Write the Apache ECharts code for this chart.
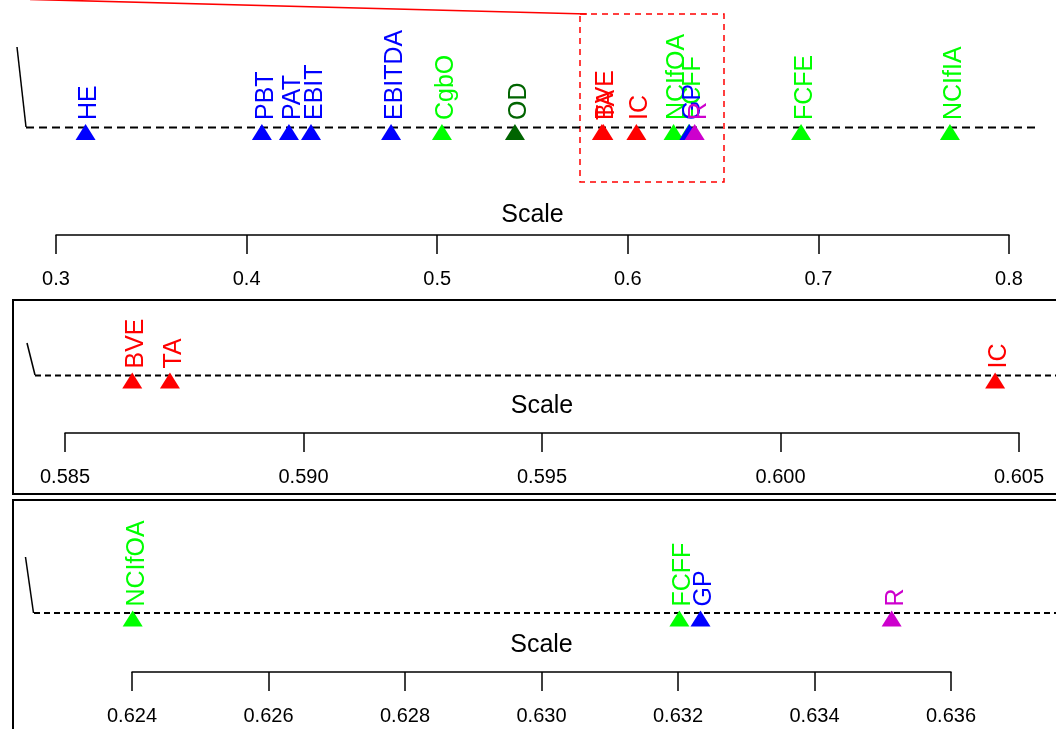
<!DOCTYPE html>
<html>
<head>
<meta charset="utf-8">
<script src="https://cdn.jsdelivr.net/npm/echarts@6/dist/echarts.min.js"></script>
<style>
  html, body { margin: 0; padding: 0; background: #fff; }
  #main { width: 1056px; height: 729px; }
</style>
</head>
<body>
<div id="main"></div>
<script>
// 数据：三个面板的名称、取值和颜色
var allNames  = ['HE', 'PBT', 'PAT', 'EBIT', 'EBITDA', 'CgbO', 'OD', 'BVE', 'TA', 'IC', 'NCIfOA', 'FCFF', 'GP', 'R', 'FCFE', 'NCIfIA'];
var allValues = [0.3155, 0.408, 0.4222, 0.4338, 0.4758, 0.5025, 0.5408, 0.5864, 0.5872, 0.6045, 0.624, 0.632, 0.6323, 0.6351, 0.6909, 0.769];
var allColors = ['#0000ff', '#0000ff', '#0000ff', '#0000ff', '#0000ff', '#00ff00', '#006400', '#ff0000', '#ff0000', '#ff0000', '#00ff00', '#00ff00', '#0000ff', '#cd00cd', '#00ff00', '#00ff00'];

var zoom1Names  = ['BVE', 'TA', 'IC'];
var zoom1Values = [0.58641, 0.5872, 0.6045];
var zoom1Colors = ['#ff0000', '#ff0000', '#ff0000'];

var zoom2Names  = ['NCIfOA', 'FCFF', 'GP', 'R'];
var zoom2Values = [0.62401, 0.63202, 0.63233, 0.63513];
var zoom2Colors = ['#00ff00', '#00ff00', '#0000ff', '#cd00cd'];

// 坐标轴范围和刻度
var axisRanges = [[0.3, 0.8, 0.1], [0.585, 0.605, 0.005], [0.624, 0.636, 0.002]];
var tickDigits = [1, 3, 3];

var font = 'Liberation Sans, Arial, sans-serif';

function makeData(names, values, colors) {
    return names.map(function (n, i) {
        return {
            name: n,
            value: [values[i], 0.5],
            itemStyle: { color: colors[i], opacity: 1 },
            label: { color: colors[i] }
        };
    });
}

function makeXAxis(idx, gap) {
    var r = axisRanges[idx];
    return {
        gridIndex: idx,
        type: 'value',
        min: r[0],
        max: r[1],
        interval: r[2],
        position: 'bottom',
        name: 'Scale',
        nameLocation: 'middle',
        nameGap: gap,
        nameTextStyle: { fontFamily: font, fontSize: 25, color: '#000', verticalAlign: 'middle' },
        axisLine: { show: true, onZero: false, lineStyle: { color: '#000', width: 1.5 } },
        axisTick: { show: true, inside: false, length: 19, lineStyle: { color: '#000', width: 1.5 } },
        axisLabel: {
            margin: 34,
            fontFamily: font,
            fontSize: 20,
            color: '#000',
            showMinLabel: true,
            showMaxLabel: true,
            formatter: function (v) { return v.toFixed(tickDigits[idx]); }
        },
        splitLine: { show: false }
    };
}

function makeYAxis(idx) {
    return { gridIndex: idx, type: 'value', min: 0, max: 1, show: false };
}

function makeSeries(idx, names, values, colors) {
    return {
        type: 'scatter',
        xAxisIndex: idx,
        yAxisIndex: idx,
        symbol: 'triangle',
        symbolSize: [20, 16],
        itemStyle: { opacity: 1 },
        data: makeData(names, values, colors),
        label: {
            show: true,
            position: 'top',
            distance: 6,
            rotate: 90,
            align: 'left',
            verticalAlign: 'middle',
            offset: [-2, 4],
            opacity: 1,
            fontFamily: font,
            fontSize: 25,
            formatter: '{b}'
        },
        emphasis: { disabled: true },
        z: 5
    };
}

var chart = echarts.init(document.getElementById('main'));

var option = {
    animation: false,
    backgroundColor: '#fff',
    grid: [
        { left: 56, right: 47, top: 29, height: 206 },
        { left: 65, right: 37, top: 328, height: 105 },
        { left: 132, right: 105, top: 565, height: 107 }
    ],
    xAxis: [makeXAxis(0, -20), makeXAxis(1, -27), makeXAxis(2, -27)],
    yAxis: [makeYAxis(0), makeYAxis(1), makeYAxis(2)],
    series: [
        makeSeries(0, allNames, allValues, allColors),
        makeSeries(1, zoom1Names, zoom1Values, zoom1Colors),
        makeSeries(2, zoom2Names, zoom2Values, zoom2Colors)
    ],
    graphic: [
        // 虚线基线
        { type: 'line', shape: { x1: 26, y1: 127.5, x2: 1035, y2: 127.5 }, style: { stroke: '#000', lineWidth: 2, lineDash: [8, 5] }, z: 1 },
        { type: 'line', shape: { x1: 35, y1: 375.5, x2: 1056, y2: 375.5 }, style: { stroke: '#000', lineWidth: 2, lineDash: [6, 4] }, z: 1 },
        { type: 'line', shape: { x1: 34, y1: 613, x2: 1056, y2: 613 }, style: { stroke: '#000', lineWidth: 2, lineDash: [6, 4] }, z: 1 },
        // 左侧斜线
        { type: 'line', shape: { x1: 17, y1: 47, x2: 26, y2: 127 }, style: { stroke: '#000', lineWidth: 1.5 } },
        { type: 'line', shape: { x1: 27, y1: 343, x2: 35, y2: 375 }, style: { stroke: '#000', lineWidth: 1.5 } },
        { type: 'line', shape: { x1: 25.5, y1: 557, x2: 33.5, y2: 613 }, style: { stroke: '#000', lineWidth: 1.5 } },
        // 放大面板边框
        { type: 'rect', shape: { x: 13, y: 300, width: 1100, height: 194 }, style: { fill: 'none', stroke: '#000', lineWidth: 2 } },
        { type: 'rect', shape: { x: 13, y: 500, width: 1100, height: 300 }, style: { fill: 'none', stroke: '#000', lineWidth: 2 } },
        // 红色放大框和连线
        { type: 'rect', shape: { x: 580, y: 14, width: 144, height: 168 }, style: { fill: 'none', stroke: '#ff0000', lineWidth: 1.5, lineDash: [6, 5] } },
        { type: 'line', shape: { x1: 587, y1: 14, x2: 30, y2: -0.6 }, style: { stroke: '#ff0000', lineWidth: 1.5 } }
    ]
};

chart.setOption(option);
</script>
</body>
</html>
